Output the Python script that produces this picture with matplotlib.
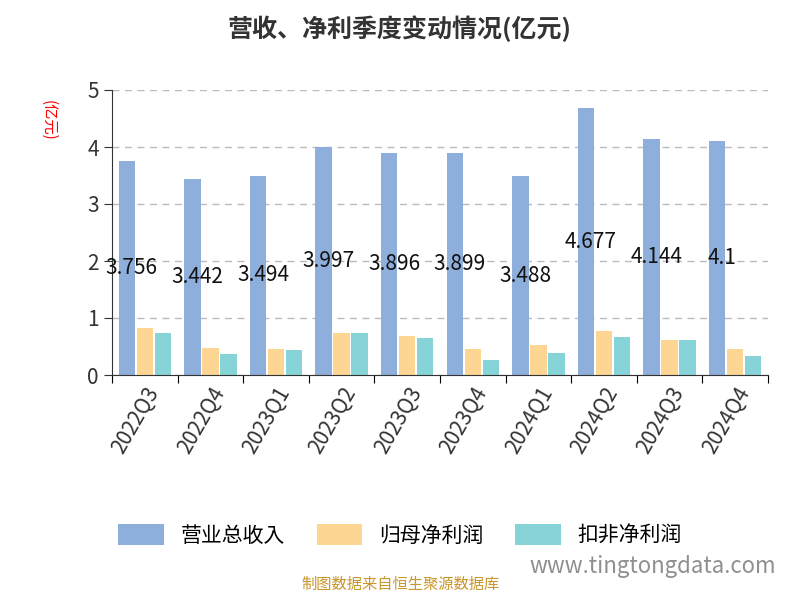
import matplotlib
matplotlib.use("Agg")
import matplotlib.pyplot as plt
from matplotlib import font_manager
import numpy as np

cjk = None
for f in font_manager.findSystemFonts():
    if 'CJK' in f or 'cjk' in f.lower():
        try:
            font_manager.fontManager.addfont(f)
            name = font_manager.FontProperties(fname=f).get_name()
            if cjk is None or 'SC' in name:
                cjk = name
        except Exception:
            pass
plt.rcParams['font.family'] = 'sans-serif'
plt.rcParams['font.sans-serif'] = [cjk or 'Noto Sans CJK SC', 'DejaVu Sans']

quarters = ["2022Q3","2022Q4","2023Q1","2023Q2","2023Q3","2023Q4","2024Q1","2024Q2","2024Q3","2024Q4"]
revenue = [3.756,3.442,3.494,3.997,3.896,3.899,3.488,4.677,4.144,4.1]
revenue_labels = ["3.756","3.442","3.494","3.997","3.896","3.899","3.488","4.677","4.144","4.1"]
net_profit = [0.82,0.48,0.46,0.74,0.69,0.45,0.52,0.77,0.61,0.45]
net_profit_deducted = [0.74,0.36,0.44,0.73,0.65,0.27,0.38,0.66,0.61,0.34]

fig = plt.figure(figsize=(8,6), dpi=100)
ax = fig.add_axes([0.14, 0.375, 0.82, 0.475])
x = np.arange(len(quarters))
w = 0.25
c1, c2, c3 = "#8eaedb", "#fdd694", "#86d4d7"
ax.bar(x - w*1.1, revenue, w, color=c1, label="营业总收入")
ax.bar(x, net_profit, w, color=c2, label="归母净利润")
ax.bar(x + w*1.1, net_profit_deducted, w, color=c3, label="扣非净利润")
for xi, v, t in zip(x, revenue, revenue_labels):
    ax.text(xi - w*0.8, v/2, t, ha='center', va='center', fontsize=15, color='#111')

ax.set_xlim(-0.5, len(quarters)-0.5)
ax.set_ylim(0, 5)
ax.set_yticks([0,1,2,3,4,5])
ax.yaxis.grid(True, linestyle=(0,(5,4)), color='#bbbbbb', linewidth=1)
ax.set_axisbelow(True)
for s in ['top','right']:
    ax.spines[s].set_visible(False)
ax.spines['left'].set_color('#333')
ax.spines['bottom'].set_color('#333')
ax.set_xticks(np.arange(len(quarters)+1)-0.5, minor=False)
ax.set_xticklabels([])
ax.set_xticks(x, minor=True)
ax.set_xticklabels(quarters, minor=True, rotation=60, ha='right', rotation_mode='anchor', fontsize=15, color='#333')
ax.tick_params(axis='x', which='minor', length=0, pad=6)
ax.tick_params(axis='x', which='major', length=6)
ax.tick_params(axis='y', labelsize=15, colors='#333', length=6)
fig.text(0.06, 0.80, "(亿元)", rotation=270, color='red', fontsize=11, ha='center', va='center')
fig.suptitle("营收、净利季度变动情况(亿元)", y=0.975, fontsize=18, fontweight='bold', color='#333')
fig.legend(loc='center', bbox_to_anchor=(0.5, 0.108), ncol=3, frameon=False, fontsize=15,
           handlelength=2.2, handleheight=1.2, columnspacing=1.5)
fig.text(0.5, 0.018, "制图数据来自恒生聚源数据库", ha='center', fontsize=11, color='#c8962a')
fig.text(0.97, 0.045, "www.tingtongdata.com", ha='right', fontsize=16, color='#444', alpha=0.6)
fig.savefig("out.png", dpi=100)
